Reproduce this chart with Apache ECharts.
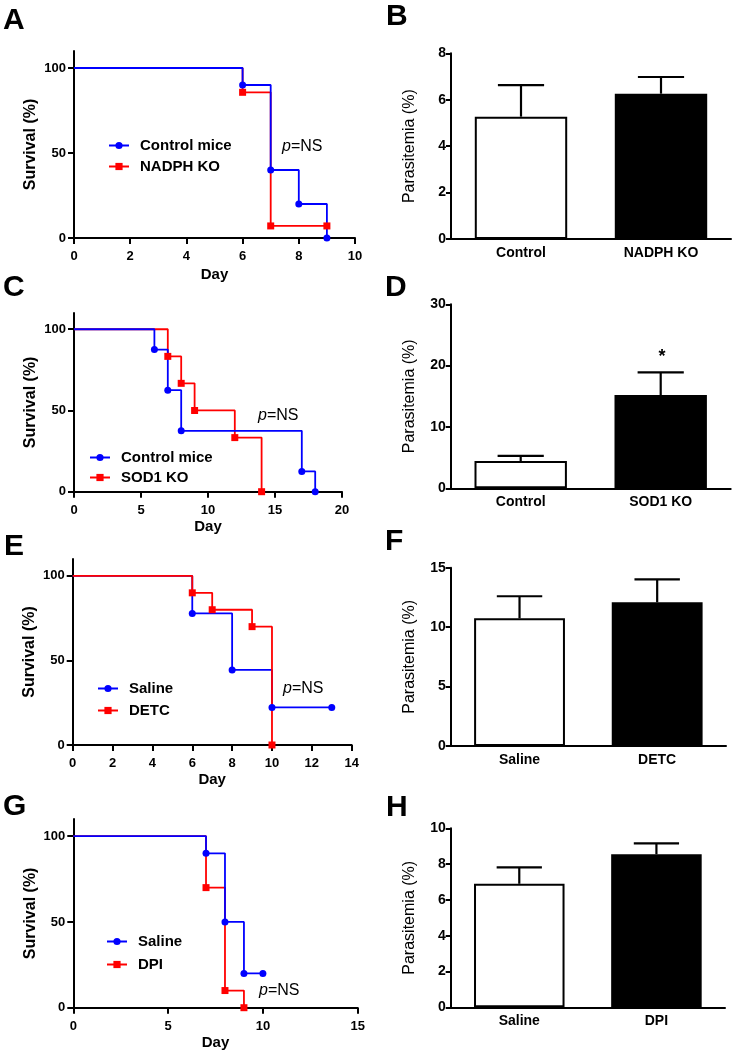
<!DOCTYPE html>
<html><head><meta charset="utf-8">
<script src="https://cdn.jsdelivr.net/npm/echarts@6/dist/echarts.min.js"></script>
<style>html,body{margin:0;padding:0;background:#fff}#c{width:737px;height:1056px}</style>
</head><body><div id="c"></div>
<script>
// ---------- DATA ----------
// Panel A (survival, days / %)
const daysA_ctrl = [0, 6, 7, 8, 9];
const survA_ctrl = [100, 90, 40, 20, 0];
const daysA_nadph = [0, 6, 7, 9];
const survA_nadph = [100, 85.7, 7.1, 7.1];
// Panel C
const daysC_ctrl = [0, 6, 7, 8, 17, 18];
const survC_ctrl = [100, 87.5, 62.5, 37.5, 12.5, 0];
const daysC_sod1 = [0, 7, 8, 9, 12, 14];
const survC_sod1 = [100, 83.3, 66.7, 50, 33.3, 0];
// Panel E
const daysE_saline = [0, 6, 8, 10, 13];
const survE_saline = [100, 77.8, 44.4, 22.2, 22.2];
const daysE_detc = [0, 6, 7, 9, 10];
const survE_detc = [100, 90, 80, 70, 0];
// Panel G
const daysG_saline = [0, 7, 8, 9, 10];
const survG_saline = [100, 90, 50, 20, 20];
const daysG_dpi = [0, 7, 8, 9];
const survG_dpi = [100, 70, 10, 0];
const survTicks = [0, 50, 100];

// Bar panels (parasitemia %, mean and SEM)
const catsB = ['Control', 'NADPH KO'];
const meanB = [5.27, 6.26];
const semB = [1.36, 0.72];
const catsD = ['Control', 'SOD1 KO'];
const meanD = [4.45, 15.2];
const semD = [0.85, 3.7];
const catsF = ['Saline', 'DETC'];
const meanF = [10.74, 12.09];
const semF = [1.86, 1.93];
const catsH = ['Saline', 'DPI'];
const meanH = [6.9, 8.55];
const semH = [0.92, 0.61];

// ---------- BUILD ----------
const FONT = '"Liberation Sans", Arial, Helvetica, sans-serif';
const BLUE = '#0000ff', RED = '#ff0000';
const grids = [], xAxes = [], yAxes = [], series = [], legends = [], graphics = [];

function axisBase() {
  return {
    axisLine: { show: true, onZero: false, lineStyle: { color: '#000', width: 2 } },
    axisTick: { show: true, length: 6, lineStyle: { color: '#000', width: 2 } },
    splitLine: { show: false },
    axisLabel: { fontFamily: FONT, fontWeight: 'bold', fontSize: 13, color: '#000' }
  };
}

function survivalPanel(grid, xMax, xInt, dayGap, curves, legend) {
  const i = grids.length;
  grids.push(grid);
  const xa = axisBase();
  Object.assign(xa, {
    gridIndex: i, type: 'value', min: 0, max: xMax, interval: xInt,
    name: 'Day', nameLocation: 'middle', nameGap: dayGap,
    nameTextStyle: { fontFamily: FONT, fontWeight: 'bold', fontSize: 15, color: '#000' }
  });
  xa.axisLabel.margin = 12;
  xAxes.push(xa);
  const ya = axisBase();
  Object.assign(ya, {
    gridIndex: i, type: 'value', min: 0, max: 110, interval: 50,
    name: 'Survival (%)', nameLocation: 'middle', nameGap: 35,
    nameTextStyle: { fontFamily: FONT, fontWeight: 'bold', fontSize: 16, color: '#000' }
  });
  ya.axisLabel.customValues = survTicks;
  ya.axisLabel.margin = 8;
  ya.axisTick.customValues = survTicks;
  yAxes.push(ya);
  curves.forEach(c => {
    series.push({
      type: 'line', name: c.name, xAxisIndex: i, yAxisIndex: i, step: 'end',
      symbol: c.symbol, symbolSize: 7, clip: false, animation: false,
      lineStyle: { color: c.color, width: 1.8 }, itemStyle: { color: c.color },
      data: c.days.map((d, k) => k === 0 ? { value: [d, c.surv[k]], symbol: 'none' } : { value: [d, c.surv[k]] })
    });
  });
  legends.push({
    orient: 'vertical', left: legend.left, top: legend.top, padding: 0,
    itemWidth: 20, itemHeight: 9, itemGap: legend.gap, selectedMode: false,
    data: legend.names,
    textStyle: { fontFamily: FONT, fontWeight: 'bold', fontSize: 15, color: '#000', padding: [0, 0, 0, 6] }
  });
}

function barPanel(grid, cats, means, sems, yMax, yInt) {
  const i = grids.length;
  grids.push(grid);
  const xa = axisBase();
  Object.assign(xa, { gridIndex: i, type: 'category', data: cats, boundaryGap: true });
  xa.axisTick = { show: false };
  xa.axisLabel.fontSize = 14;
  xa.axisLabel.margin = 7;
  xAxes.push(xa);
  const ya = axisBase();
  Object.assign(ya, {
    gridIndex: i, type: 'value', min: 0, max: yMax, interval: yInt,
    name: 'Parasitemia (%)', nameLocation: 'middle', nameGap: 33,
    nameTextStyle: { fontFamily: FONT, fontWeight: 'normal', fontSize: 16, color: '#000' }
  });
  ya.axisTick.length = 5;
  ya.axisLabel.margin = 5;
  ya.axisLabel.fontSize = 14;
  yAxes.push(ya);
  series.push({
    type: 'bar', xAxisIndex: i, yAxisIndex: i, barWidth: '66%', animation: false,
    data: means.map((v, k) => ({
      value: v,
      itemStyle: k === 0 ? { color: '#fff', borderColor: '#000', borderWidth: 2 }
                         : { color: '#000', borderColor: '#000', borderWidth: 2 }
    }))
  });
  series.push({
    type: 'custom', xAxisIndex: i, yAxisIndex: i, z: 5, animation: false,
    encode: { x: 0, y: [1, 2] },
    data: means.map((v, k) => [k, v, v + sems[k]]),
    renderItem: (params, api) => {
      const x = api.value(0), m = api.value(1), u = api.value(2);
      const p0 = api.coord([x, m]), p1 = api.coord([x, u]);
      const half = api.size([1, 0])[0] * 0.165;
      return {
        type: 'group', children: [
          { type: 'line', shape: { x1: p0[0], y1: p0[1], x2: p1[0], y2: p1[1] }, style: { stroke: '#000', lineWidth: 2.2 } },
          { type: 'line', shape: { x1: p1[0] - half, y1: p1[1], x2: p1[0] + half, y2: p1[1] }, style: { stroke: '#000', lineWidth: 2.2 } }
        ]
      };
    }
  });
}

// Panel A
survivalPanel({ left: 74, top: 51, width: 281, height: 187 }, 10, 2, 29, [
  { name: 'NADPH KO', days: daysA_nadph, surv: survA_nadph, color: RED, symbol: 'rect' },
  { name: 'Control mice', days: daysA_ctrl, surv: survA_ctrl, color: BLUE, symbol: 'circle' }
], { left: 108, top: 138, gap: 6, names: ['Control mice', 'NADPH KO'] });
// Panel B
barPanel({ left: 451, top: 53.3, width: 280, height: 185.7 }, catsB, meanB, semB, 8, 2);
// Panel C
survivalPanel({ left: 74, top: 313, width: 268, height: 178.7 }, 20, 5, 28, [
  { name: 'SOD1 KO', days: daysC_sod1, surv: survC_sod1, color: RED, symbol: 'rect' },
  { name: 'Control mice', days: daysC_ctrl, surv: survC_ctrl, color: BLUE, symbol: 'circle' }
], { left: 89, top: 450, gap: 5, names: ['Control mice', 'SOD1 KO'] });
// Panel D
barPanel({ left: 450.7, top: 304.3, width: 280, height: 184 }, catsD, meanD, semD, 30, 10);
// Panel E
survivalPanel({ left: 72.7, top: 559, width: 279, height: 186 }, 14, 2, 27, [
  { name: 'Saline', days: daysE_saline, surv: survE_saline, color: BLUE, symbol: 'circle' },
  { name: 'DETC', days: daysE_detc, surv: survE_detc, color: RED, symbol: 'rect' }
], { left: 97, top: 681, gap: 7, names: ['Saline', 'DETC'] });
// Panel F
barPanel({ left: 450.7, top: 567.7, width: 275.3, height: 178.3 }, catsF, meanF, semF, 15, 5);
// Panel G
survivalPanel({ left: 73.3, top: 819, width: 284.4, height: 188.7 }, 15, 5, 28, [
  { name: 'DPI', days: daysG_dpi, surv: survG_dpi, color: RED, symbol: 'rect' },
  { name: 'Saline', days: daysG_saline, surv: survG_saline, color: BLUE, symbol: 'circle' }
], { left: 106, top: 934, gap: 8, names: ['Saline', 'DPI'] });
// Panel H
barPanel({ left: 450.7, top: 828.3, width: 274.3, height: 179 }, catsH, meanH, semH, 10, 2);

// Panel letters
const letters = [['A', 3, 21], ['B', 386, 17], ['C', 3, 288], ['D', 385, 287.5],
                 ['E', 4, 546.5], ['F', 385, 541.5], ['G', 3, 807], ['H', 386, 808]];
letters.forEach(([t, x, y]) => graphics.push({
  type: 'text', x, y, style: { text: t, fill: '#000', fontFamily: FONT, fontWeight: 'bold', fontSize: 30, verticalAlign: 'middle', align: 'left' }
}));
// p=NS labels
[[282, 147], [258, 416], [283, 689], [259, 991]].forEach(([x, y]) => graphics.push({
  type: 'text', x, y, style: {
    text: '{i|p}=NS', fill: '#000', fontFamily: FONT, fontSize: 16, verticalAlign: 'middle', align: 'left',
    rich: { i: { fontStyle: 'italic', fontFamily: FONT, fontSize: 16, fill: '#000' } }
  }
}));
// significance star (panel D)
graphics.push({ type: 'text', x: 662, y: 357, style: { text: '*', fill: '#000', fontFamily: FONT, fontWeight: 'bold', fontSize: 18, align: 'center', verticalAlign: 'middle' } });

const chart = echarts.init(document.getElementById('c'), null, { renderer: 'canvas' });
chart.setOption({
  backgroundColor: '#fff', animation: false,
  grid: grids, xAxis: xAxes, yAxis: yAxes, series, legend: legends, graphic: graphics
});
</script></body></html>
